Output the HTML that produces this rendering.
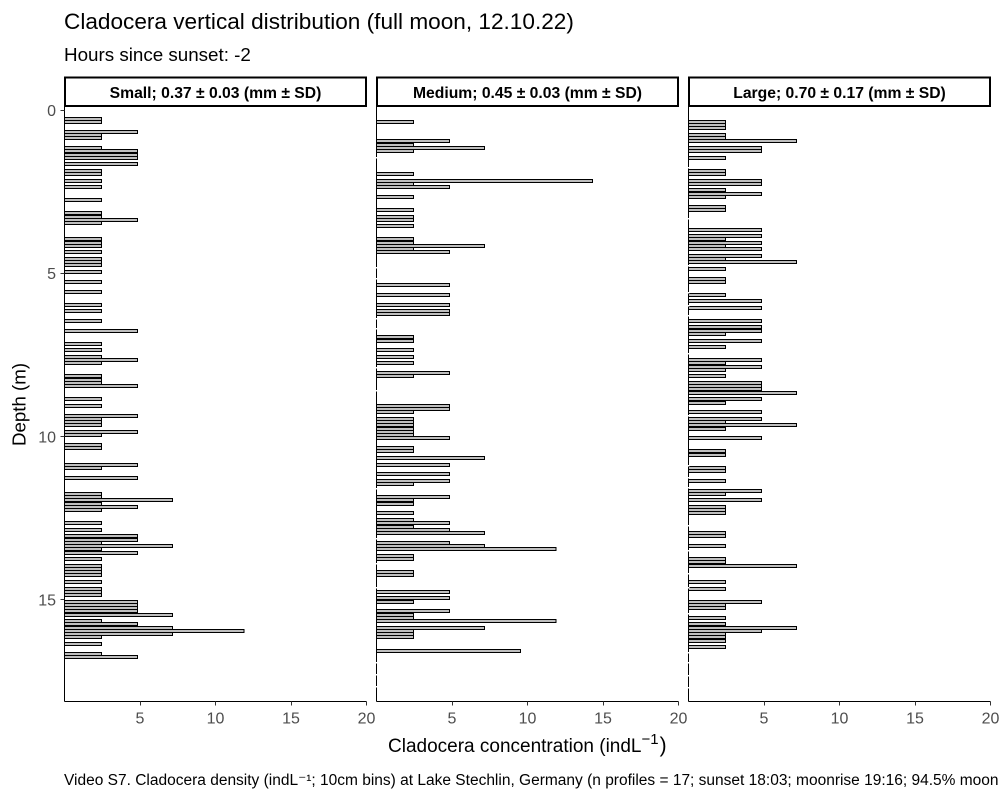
<!DOCTYPE html>
<html>
<head>
<meta charset="utf-8">
<title>Cladocera vertical distribution</title>
<style>
html,body{margin:0;padding:0;background:#fff;width:1000px;height:800px;overflow:hidden}
svg{display:block}
text{font-family:"Liberation Sans",Arial,sans-serif}
</style>
</head>
<body>
<svg id="chart" xmlns="http://www.w3.org/2000/svg" width="1000" height="800" viewBox="0 0 1000 800">
<rect x="0" y="0" width="1000" height="800" fill="#fff"/>
<text x="64" y="29" font-size="22.6" fill="#000">Cladocera vertical distribution (full moon, 12.10.22)</text>
<text x="64" y="61" font-size="18.8" fill="#000">Hours since sunset: -2</text>
<text transform="translate(25.5,404.5) rotate(-90)" text-anchor="middle" font-size="18.7" fill="#000">Depth (m)</text>
<text x="388" y="752" font-size="19" fill="#000">Cladocera concentration (indL<tspan font-size="15" dy="-8">−1</tspan><tspan font-size="21" dy="8" dx="1">)</tspan></text>
<text x="64" y="785" font-size="15.5" fill="#000">Video S7. Cladocera density (indL⁻¹; 10cm bins) at Lake Stechlin, Germany (n profiles = 17; sunset 18:03; moonrise 19:16; 94.5% moon illumination)</text>
<g id="panels"></g>
</svg>
<script>
var smallDepths = [0.25,0.35,0.65,0.75,0.85,1.15,1.25,1.35,1.45,1.65,1.85,1.95,2.15,2.35,2.75,3.15,3.25,3.35,3.45,3.95,4.05,4.15,4.35,4.55,4.65,4.75,4.95,5.25,5.55,5.95,6.15,6.45,6.75,7.15,7.35,7.55,7.65,7.75,8.15,8.25,8.35,8.45,8.85,9.05,9.35,9.45,9.55,9.65,9.85,9.95,10.25,10.35,10.85,10.95,11.25,11.75,11.85,11.95,12.05,12.15,12.25,12.65,12.85,13.05,13.15,13.25,13.35,13.45,13.55,13.75,13.95,14.05,14.15,14.25,14.45,14.65,14.75,14.85,15.05,15.15,15.25,15.35,15.45,15.65,15.75,15.85,15.95,16.05,16.15,16.35,16.65,16.75];
var smallValues = [2.45,2.45,4.85,2.45,2.45,2.45,4.85,4.85,4.85,4.85,2.45,2.45,2.45,2.45,2.45,2.45,2.45,4.85,2.45,2.45,2.45,2.45,2.45,2.45,2.45,2.45,2.45,2.45,2.45,2.45,2.45,2.45,4.85,2.45,2.45,2.45,4.85,2.45,2.45,2.45,2.45,4.85,2.45,2.45,4.85,2.45,2.45,2.45,4.85,2.45,2.45,2.45,4.85,2.45,4.85,2.45,2.45,7.15,2.45,4.85,2.45,2.45,2.45,4.85,4.85,2.45,7.15,2.45,4.85,2.45,2.45,2.45,2.45,2.45,2.45,2.45,2.45,2.45,4.85,4.85,4.85,4.85,7.15,2.45,4.85,7.15,11.9,7.15,2.45,2.45,2.45,4.85];
var mediumDepths = [0.35,0.95,1.05,1.15,1.25,1.95,2.15,2.25,2.35,2.65,3.05,3.25,3.35,3.55,3.95,4.05,4.15,4.25,4.35,5.35,5.65,5.95,6.15,6.25,6.95,7.05,7.35,7.55,7.75,8.05,8.15,9.05,9.15,9.25,9.45,9.55,9.65,9.75,9.85,9.95,10.05,10.35,10.45,10.65,10.85,11.15,11.35,11.45,11.85,11.95,12.05,12.35,12.55,12.65,12.75,12.85,12.95,13.25,13.35,13.45,13.65,13.75,14.15,14.25,14.75,14.95,15.05,15.35,15.45,15.55,15.65,15.85,15.95,16.05,16.15,16.55];
var mediumValues = [2.45,4.85,2.45,7.15,2.45,2.45,14.3,2.45,4.85,2.45,2.45,2.45,2.45,2.45,2.45,2.45,7.15,2.45,4.85,4.85,4.85,4.85,4.85,4.85,2.45,2.45,2.45,2.45,2.45,4.85,2.45,4.85,4.85,2.45,2.45,2.45,2.45,2.45,2.45,2.45,4.85,2.45,2.45,7.15,4.85,4.85,4.85,2.45,4.85,2.45,2.45,2.45,2.45,4.85,2.45,4.85,7.15,4.85,7.15,11.9,2.45,2.45,2.45,2.45,4.85,4.85,2.45,4.85,2.45,2.45,11.9,7.15,2.45,2.45,2.45,9.55];
var largeDepths = [0.35,0.45,0.55,0.75,0.85,0.95,1.15,1.25,1.45,1.85,1.95,2.15,2.25,2.45,2.55,2.65,2.95,3.05,3.65,3.85,3.95,4.05,4.15,4.25,4.45,4.55,4.65,4.85,5.15,5.25,5.65,5.85,6.05,6.45,6.65,6.75,6.85,7.05,7.25,7.65,7.75,7.85,7.95,8.15,8.35,8.45,8.55,8.65,8.85,8.95,9.25,9.45,9.55,9.65,9.75,10.05,10.45,10.55,10.95,11.05,11.35,11.65,11.75,11.95,12.15,12.25,12.35,12.95,13.05,13.35,13.75,13.85,13.95,14.45,14.65,15.05,15.15,15.25,15.55,15.75,15.85,15.95,16.05,16.15,16.25,16.45];
var largeValues = [2.45,2.45,2.45,2.45,2.45,7.15,4.85,4.85,2.45,2.45,2.45,4.85,4.85,2.45,4.85,2.45,2.45,2.45,4.85,4.85,2.45,4.85,2.45,4.85,4.85,2.45,7.15,2.45,2.45,2.45,2.45,4.85,4.85,4.85,4.85,4.85,2.45,4.85,2.45,4.85,2.45,4.85,2.45,2.45,4.85,4.85,4.85,7.15,4.85,2.45,4.85,4.85,2.45,7.15,2.45,4.85,2.45,2.45,2.45,2.45,2.45,4.85,2.45,4.85,2.45,2.45,2.45,2.45,2.45,2.45,2.45,2.45,7.15,2.45,2.45,4.85,2.45,2.45,2.45,2.45,7.15,4.85,2.45,2.45,2.45,2.45];
var stripLabels = ["Small; 0.37 ± 0.03 (mm ± SD)","Medium; 0.45 ± 0.03 (mm ± SD)","Large; 0.70 ± 0.17 (mm ± SD)"];
var xTicks = [5,10,15,20];
var yTicks = [0,5,10,15];

var NS = 'http://www.w3.org/2000/svg';
var root = document.getElementById('panels');
var PANEL_LEFT = [64.5,376.5,688.5];
var PANEL_W = 302, TOP = 110, BOTTOM = 701.5;
var PX_PER_M = 32.63, PX_PER_UNIT = 15.1, BAR_H = 3;
// small white nicks in the y axis lines of the 2nd and 3rd panels
var axisNicks = [[],
  [157,267,278,318,328,367,390,488,538,563,587,662,674,686],
  [167,218,265,292,305,315,353,415,465,477,487,525,550,573,587,613,652,662,675,687]];

function yScale(d){ return TOP + d * PX_PER_M; }
function xScale(panel, v){ return PANEL_LEFT[panel] + v * PX_PER_UNIT; }
function mk(tag, attrs, parent){
  var e = document.createElementNS(NS, tag);
  for (var k in attrs) e.setAttribute(k, attrs[k]);
  (parent || root).appendChild(e);
  return e;
}
function drawPanel(p, depths, values, name){
  var g = mk('g', {});
  
  
  for (var i = 0; i < depths.length; i++){
    var y = Math.round(yScale(depths[i]) - BAR_H / 2) + 0.5;
    var bar = mk('rect', {x: xScale(p, 0), y: y, width: values[i] * PX_PER_UNIT, height: BAR_H,
      fill: '#bebebe', stroke: '#000', 'stroke-width': 1, 'shape-rendering': 'crispEdges'}, g);
    
    
  }
  var yLine = mk('line', {x1: PANEL_LEFT[p], x2: PANEL_LEFT[p], y1: 106, y2: BOTTOM, stroke: '#000', 'stroke-width': 1, 'shape-rendering': 'crispEdges'}, g);
  
  
  axisNicks[p].forEach(function(n){
    mk('rect', {x: PANEL_LEFT[p] - 1, y: n, width: 2, height: 1.5, fill: '#fff', 'shape-rendering': 'crispEdges'}, g);
  });
  var xLine = mk('line', {x1: PANEL_LEFT[p], x2: PANEL_LEFT[p] + PANEL_W, y1: BOTTOM, y2: BOTTOM, stroke: '#000', 'stroke-width': 1, 'shape-rendering': 'crispEdges'}, g);
  
  
  xTicks.forEach(function(t){
    var tx = Math.round(xScale(p, t) - 0.5) + 0.5;
    var tick = mk('line', {x1: tx, x2: tx, y1: BOTTOM, y2: BOTTOM + 4, stroke: '#333', 'stroke-width': 1, 'shape-rendering': 'crispEdges'}, g);
    
    
    var lab = mk('text', {x: xScale(p, t), y: 723.5, 'text-anchor': 'middle', 'font-size': 16, fill: '#4d4d4d'}, g);
    
    
    lab.textContent = t;
  });
  var strip = mk('rect', {x: PANEL_LEFT[p] + 0.5, y: 77.5, width: PANEL_W - 1, height: 28.5, fill: '#fff', stroke: '#000', 'stroke-width': 2, 'shape-rendering': 'crispEdges'}, g);
  
  
  var st = mk('text', {x: PANEL_LEFT[p] + PANEL_W / 2, y: 98, 'text-anchor': 'middle', 'font-size': 15.7, 'font-weight': 'bold', fill: '#000'}, g);
  
  
  st.textContent = stripLabels[p];
}
drawPanel(0, smallDepths, smallValues, 'small');
drawPanel(1, mediumDepths, mediumValues, 'medium');
drawPanel(2, largeDepths, largeValues, 'large');

yTicks.forEach(function(t){
  var y = Math.round(yScale(t) - 0.5) + 0.5;
  var tick = mk('line', {x1: 60.5, x2: 64.5, y1: y, y2: y, stroke: '#333', 'stroke-width': 1, 'shape-rendering': 'crispEdges'});
  
  
  var lab = mk('text', {x: 56, y: yScale(t) + 6, 'text-anchor': 'end', 'font-size': 16, fill: '#4d4d4d'});
  
  
  lab.textContent = t;
});
</script>
</body>
</html>
